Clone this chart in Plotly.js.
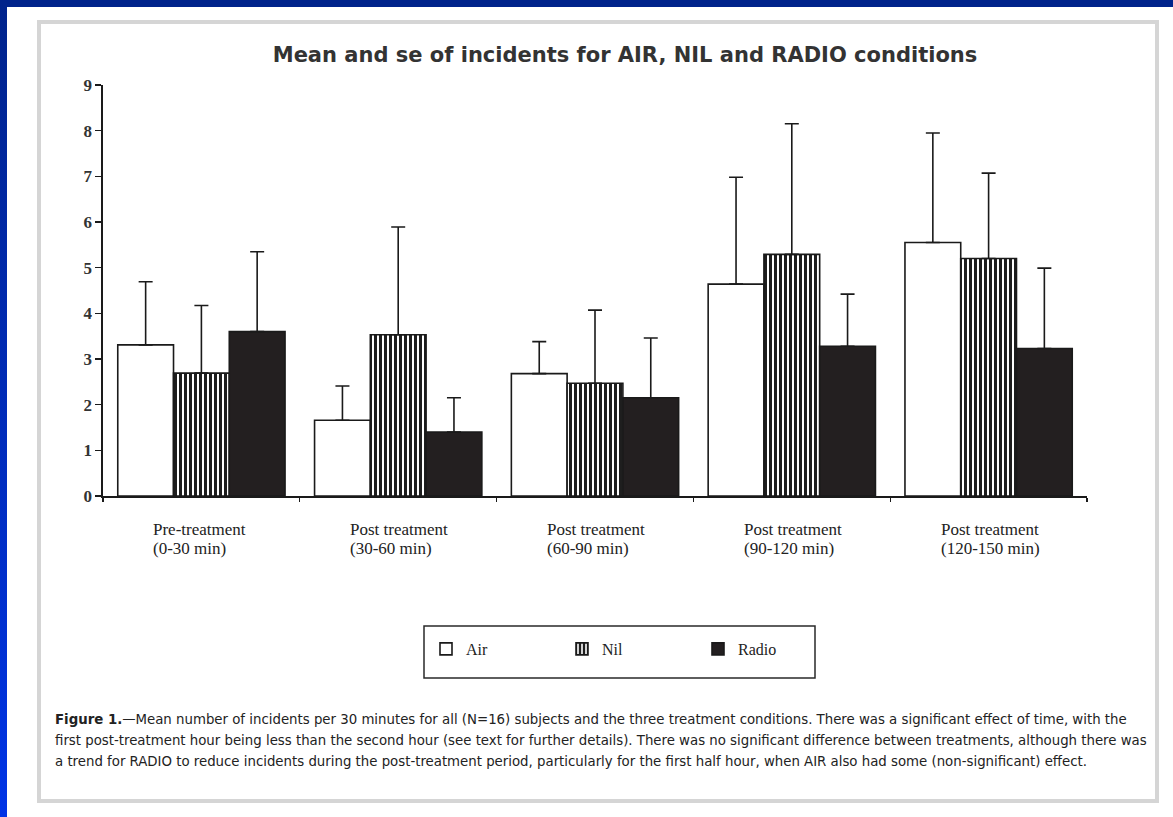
<!DOCTYPE html>
<html>
<head>
<meta charset="utf-8">
<script src="https://cdn.plot.ly/plotly-3.0.1.min.js"></script>
<style>
  html, body { margin:0; padding:0; background:#ffffff; width:1173px; height:817px; overflow:hidden; }
  #topbar { position:absolute; left:0; top:0; width:1173px; height:7px; background:#00238b; }
  #leftbar { position:absolute; left:0; top:0; width:7px; height:817px; background:linear-gradient(to bottom, #00238b, #0034e6); }
  #panel { position:absolute; left:37px; top:20px; width:1122px; height:783px; box-sizing:border-box; border:4px solid #d5d5d5; }
  #chart { position:absolute; left:0; top:0; width:1173px; height:817px; }
</style>
</head>
<body>
<div id="topbar"></div>
<div id="leftbar"></div>
<div id="panel"></div>
<div id="chart"></div>
<script>
// ---- data ----
const labelLine1 = ['Pre-treatment', 'Post treatment', 'Post treatment', 'Post treatment', 'Post treatment'];
const labelLine2 = ['(0-30 min)', '(30-60 min)', '(60-90 min)', '(90-120 min)', '(120-150 min)'];
const categories = labelLine1.map((a, i) => a + ' ' + labelLine2[i]);

const airMean   = [3.31, 1.66, 2.68, 4.64, 5.55];
const airSe     = [1.38, 0.75, 0.70, 2.34, 2.40];
const nilMean   = [2.69, 3.53, 2.47, 5.29, 5.20];
const nilSe     = [1.48, 2.36, 1.60, 2.86, 1.87];
const radioMean = [3.60, 1.40, 2.15, 3.28, 3.23];
const radioSe   = [1.75, 0.75, 1.31, 1.14, 1.76];

const seriesNames = ['Air', 'Nil', 'Radio'];
const titleText = 'Mean and se of incidents for AIR, NIL and RADIO conditions';
const captionLines = [
  '<b>Figure 1.</b>—Mean number of incidents per 30 minutes for all (N=16) subjects and the three treatment conditions. There was a significant effect of time, with the',
  'first post-treatment hour being less than the second hour (see text for further details). There was no significant difference between treatments, although there was',
  'a trend for RADIO to reduce incidents during the post-treatment period, particularly for the first half hour, when AIR also had some (non-significant) effect.'
];

// ---- layout geometry (pixels) ----
const W = 1173, H = 817;
const M = { l: 103, r: 86, t: 85, b: 321 };
const PW = W - M.l - M.r, PH = H - M.t - M.b;
const px = x => (x - M.l) / PW;
const py = y => (H - M.b - y) / PH;

const serif = 'Liberation Serif, Times New Roman, serif';
const condensed = 'Liberation Sans Narrow, Arial Narrow, DejaVu Sans Condensed, sans-serif';

function errSpec(se) {
  return { type: 'data', symmetric: false, array: se, arrayminus: se.map(() => 0),
           color: '#1a1a1a', thickness: 1.6, width: 7 };
}

const traces = [
  { type: 'bar', name: seriesNames[0], x: categories, y: airMean,
    marker: { color: '#ffffff', line: { color: '#1a1a1a', width: 1.6 } },
    error_y: errSpec(airSe) },
  { type: 'bar', name: seriesNames[1], x: categories, y: nilMean,
    marker: { color: '#ffffff', line: { color: '#1a1a1a', width: 1.6 },
              pattern: { shape: '|', fgcolor: '#1e1e1e', bgcolor: '#ffffff', size: 5, solidity: 0.6 } },
    error_y: errSpec(nilSe) },
  { type: 'bar', name: seriesNames[2], x: categories, y: radioMean,
    marker: { color: '#231f20', line: { color: '#1a1a1a', width: 1.6 } },
    error_y: errSpec(radioSe) }
];

const annotations = [];
categories.forEach((c, i) => {
  annotations.push({
    xref: 'x', yref: 'paper', x: c, y: py(529), xanchor: 'left', yanchor: 'middle', xshift: -50,
    text: labelLine1[i], align: 'left', showarrow: false,
    font: { family: serif, size: 17, color: '#222222' }
  });
  annotations.push({
    xref: 'x', yref: 'paper', x: c, y: py(548), xanchor: 'left', yanchor: 'middle', xshift: -50,
    text: labelLine2[i], align: 'left', showarrow: false,
    font: { family: serif, size: 17, color: '#222222' }
  });
});

const captionY = [718, 739, 760];
captionLines.forEach((line, i) => {
  annotations.push({
    xref: 'paper', yref: 'paper', x: px(53), y: py(captionY[i]), xanchor: 'left', yanchor: 'middle',
    text: line, align: 'left', showarrow: false,
    font: { family: condensed, size: 14.8, color: '#222222' }
  });
});

const layout = {
  width: W, height: H,
  margin: M,
  paper_bgcolor: 'rgba(0,0,0,0)',
  plot_bgcolor: 'rgba(0,0,0,0)',
  title: { text: '<b>' + titleText + '</b>', x: 625 / W, xanchor: 'center', y: 1 - 55 / H, yanchor: 'middle',
           font: { family: 'DejaVu Sans, sans-serif', size: 21, color: '#333333' } },
  barmode: 'group',
  bargap: 0.15,
  bargroupgap: 0,
  xaxis: {
    type: 'category', range: [-0.5, 4.5],
    showline: true, linecolor: '#1a1a1a', linewidth: 1.6,
    ticks: 'outside', tickson: 'boundaries', ticklen: 4, tickcolor: '#1a1a1a', tickwidth: 1.2,
    showticklabels: false, showgrid: false, zeroline: false, fixedrange: true
  },
  yaxis: {
    range: [0, 9], dtick: 1, tick0: 0,
    showline: true, linecolor: '#1a1a1a', linewidth: 1.6,
    ticks: 'outside', ticklen: 6, tickcolor: '#1a1a1a', tickwidth: 1.2,
    tickfont: { family: serif, size: 17, color: '#333333', weight: 700 },
    showgrid: false, zeroline: false, fixedrange: true
  },
  showlegend: true,
  legend: {
    orientation: 'h', x: px(426), xanchor: 'left', y: py(649), yanchor: 'middle',
    bgcolor: 'rgba(0,0,0,0)', borderwidth: 0,
    font: { family: serif, size: 16, color: '#222222' },
    entrywidth: 91, entrywidthmode: 'pixels', traceorder: 'normal'
  },
  shapes: [
    { type: 'rect', xref: 'paper', yref: 'paper', x0: px(424), x1: px(815), y0: py(678), y1: py(626),
      line: { color: '#2a2a2a', width: 1.5 }, fillcolor: 'rgba(0,0,0,0)' }
  ],
  annotations: annotations
};

Plotly.newPlot('chart', traces, layout, { displayModeBar: false, staticPlot: true });
</script>
</body>
</html>
